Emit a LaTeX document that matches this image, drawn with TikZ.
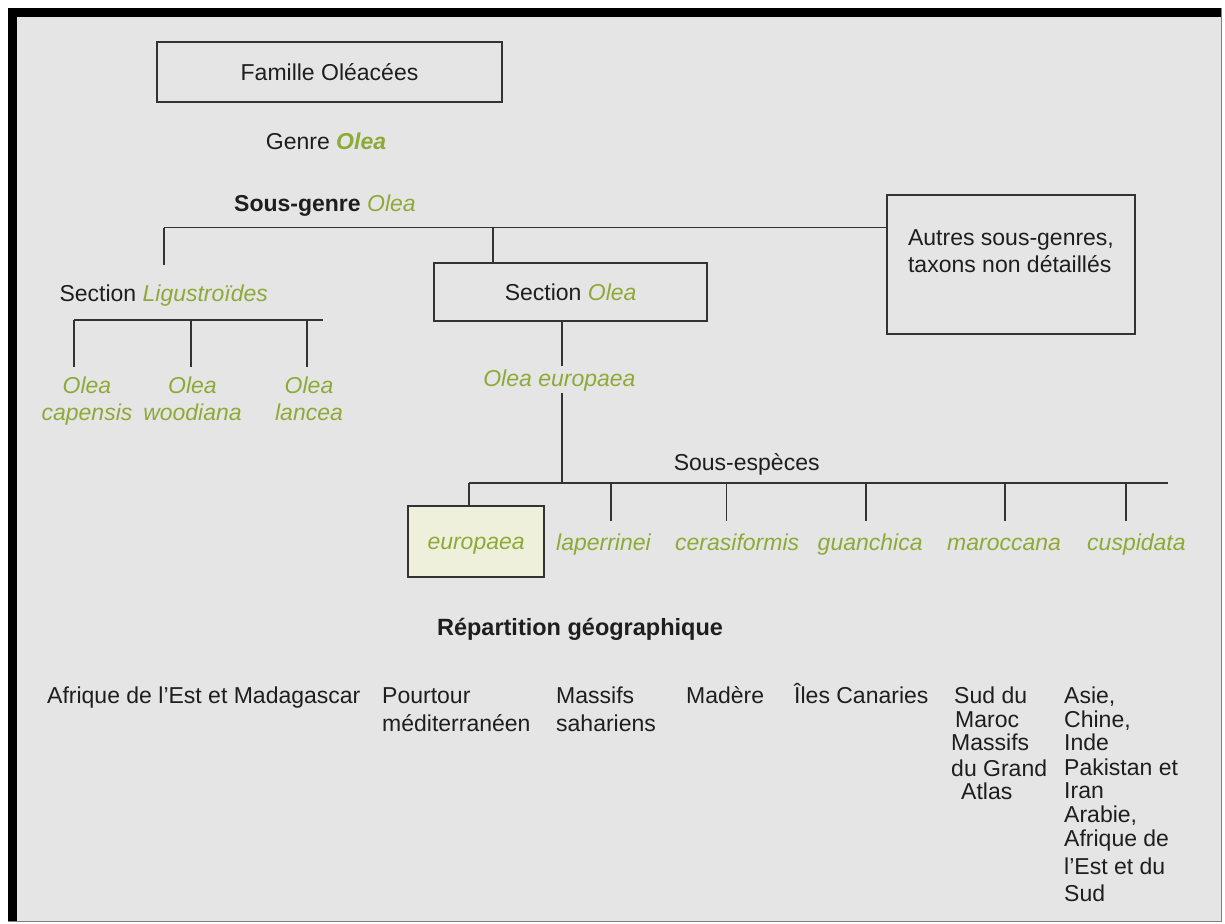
\documentclass[tikz,border=0pt]{standalone}
\usepackage{fontspec}
\setmainfont{Liberation Sans}
\definecolor{oleagreen}{HTML}{8DAA37}
\definecolor{bgray}{HTML}{E5E5E5}
\definecolor{ink}{HTML}{1E1E1E}
\definecolor{linec}{HTML}{333333}
\definecolor{boxfill}{HTML}{EEF0DC}
\newcommand{\gr}[1]{{\itshape\color{oleagreen}#1}}
\newcommand{\colt}[2]{\fontsize{23}{#1}\selectfont\begin{tabular}[t]{@{}#2@{}}}
\begin{document}
\begin{tikzpicture}[x=1pt,y=-1pt,
  txt/.style={font=\fontsize{23}{27.4}\selectfont, text=ink, inner sep=0pt},
  sp/.style={txt, font=\fontsize{23}{27.4}\selectfont\itshape, text=oleagreen},
  taxbox/.style={draw=linec, line width=1.8pt, inner sep=0pt, text height=17pt, text depth=0pt,
    font=\fontsize{23}{27.7}\selectfont, text=ink},
  conn/.style={draw=linec, line width=1.8pt}]
\useasboundingbox (0,0) rectangle (1225,923);
\fill[white] (0,0) rectangle (1225,923);
\fill[bgray] (8,8) rectangle (1221,921);
\draw[gray, line width=1pt] (1221,8) -- (1221,921) -- (8,921);
\fill[black] (8,8) rectangle (1221,17);
\fill[black] (8,8) rectangle (17,921);

% boxes
\node[taxbox, minimum width=345pt, minimum height=60pt] (famille) at (329.5,72) {Famille Oléacées};
\node[taxbox, minimum width=248pt, minimum height=139.3pt, align=left] (autres) at (1011,264.3)
  {Autres sous-genres,\\taxons non détaillés};
\node[taxbox, minimum width=272.7pt, minimum height=57.4pt] (sectolea) at (570.6,292) {Section \gr{Olea}};
\node[taxbox, fill=boxfill, minimum width=136.3pt, minimum height=70.7pt] (eur) at (476.1,541.3)
  {\gr{europaea}};

% titles
\node[txt, anchor=base west] (genre) at (265.7,149) {Genre {\bfseries\itshape\color{oleagreen}Olea}};
\node[txt, anchor=base west] (sousgenre) at (234,211) {\textbf{Sous-genre} \gr{Olea}};
\node[txt, anchor=base west] (ligu) at (59.3,301.7) {Section \gr{Ligustroïdes}};
\node[sp, anchor=base] (oeur) at (559.4,386.7) {Olea europaea};
\node[sp, anchor=base] (capensis) at (87,393.3) {\colt{27.4}{c}Olea\\capensis\end{tabular}};
\node[sp, anchor=base] (woodiana) at (192.5,393.3) {\colt{27.4}{c}Olea\\woodiana\end{tabular}};
\node[sp, anchor=base] (lancea) at (309,393.3) {\colt{27.4}{c}Olea\\lancea\end{tabular}};
\node[txt, anchor=base west] (ssesp) at (673.6,470) {Sous-espèces};

% subspecies
\node[sp, anchor=base west] (laperrinei) at (556,550) {laperrinei};
\node[sp, anchor=base west] (cerasiformis) at (675,550) {cerasiformis};
\node[sp, anchor=base west] (guanchica) at (817.5,550) {guanchica};
\node[sp, anchor=base west] (maroccana) at (947,550) {maroccana};
\node[sp, anchor=base west] (cuspidata) at (1087,550) {cuspidata};

% geography
\node[txt, anchor=base, font=\fontsize{23.5}{27}\selectfont\bfseries] (repart) at (580,635) {Répartition géographique};
\node[txt, anchor=base west] (g1) at (47,703) {Afrique de l’Est et Madagascar};
\node[txt, anchor=base west] (g2) at (382,703) {\colt{28}{l}Pourtour\\méditerranéen\end{tabular}};
\node[txt, anchor=base west] (g3) at (556,703) {\colt{28}{l}Massifs\\sahariens\end{tabular}};
\node[txt, anchor=base west] (g4) at (686,703) {Madère};
\node[txt, anchor=base west] (g5) at (794,703) {Îles Canaries};
\node[txt, anchor=base west] (s1) at (954,703) {Sud du};
\node[txt, anchor=base west] (s2) at (955,727) {Maroc};
\node[txt, anchor=base west] (s3) at (951,750) {Massifs};
\node[txt, anchor=base west] (s4) at (951,776) {du Grand};
\node[txt, anchor=base west] (s5) at (961,799.5) {Atlas};
\node[txt, anchor=base west] (a1) at (1064,703) {Asie,};
\node[txt, anchor=base west] (a2) at (1064,727) {Chine,};
\node[txt, anchor=base west] (a3) at (1064,750) {Inde};
\node[txt, anchor=base west] (a4) at (1064,775) {Pakistan et};
\node[txt, anchor=base west] (a5) at (1064,798) {Iran};
\node[txt, anchor=base west] (a6) at (1064,822) {Arabie,};
\node[txt, anchor=base west] (a7) at (1064,846) {Afrique de};
\node[txt, anchor=base west] (a8) at (1064,874) {l’Est et du};
\node[txt, anchor=base west] (a9) at (1064,901) {Sud};

% junction coordinates
\coordinate (sgl) at (164,227.5);
\coordinate (sgm) at (492.7,227.5);
\coordinate (ligtop) at (164,265);
\coordinate (lbl) at (74,320);
\coordinate (lbr) at (322.7,320);
\coordinate (lb2) at (190.7,320);
\coordinate (lb3) at (306.7,320);
\coordinate (cap-t) at (74,367);
\coordinate (woo-t) at (190.7,367);
\coordinate (lan-t) at (306.7,367);
\coordinate (oe-top) at (562.3,366);
\coordinate (oe-bot) at (562.3,393.3);
\coordinate (ssm) at (562.3,483.3);
\coordinate (ssl) at (469,483.3);
\coordinate (ssr) at (1168,483.3);
\foreach \n/\x in {lap/610.6, cer/726.4, gua/866, mar/1005, cus/1126}{
  \coordinate (\n-b) at (\x,483.3);
  \coordinate (\n-t) at (\x,521);
}

% connectors
\draw[conn] (sgl) -- (sgl -| autres.west);
\draw[conn] (sgl) -- (ligtop);
\draw[conn] (sgm) -- (sgm |- sectolea.north);
\draw[conn] (lbl) -- (lbr);
\draw[conn] (lbl) -- (cap-t);
\draw[conn] (lb2) -- (woo-t);
\draw[conn] (lb3) -- (lan-t);
\draw[conn] (sectolea.south -| oe-top) -- (oe-top);
\draw[conn] (oe-bot) -- (ssm);
\draw[conn] (ssl) -- (ssr);
\draw[conn] (ssl) -- (ssl |- eur.north);
\foreach \n in {lap,cer,gua,mar,cus}{
  \draw[conn] (\n-b) -- (\n-t);
}
\end{tikzpicture}
\end{document}
